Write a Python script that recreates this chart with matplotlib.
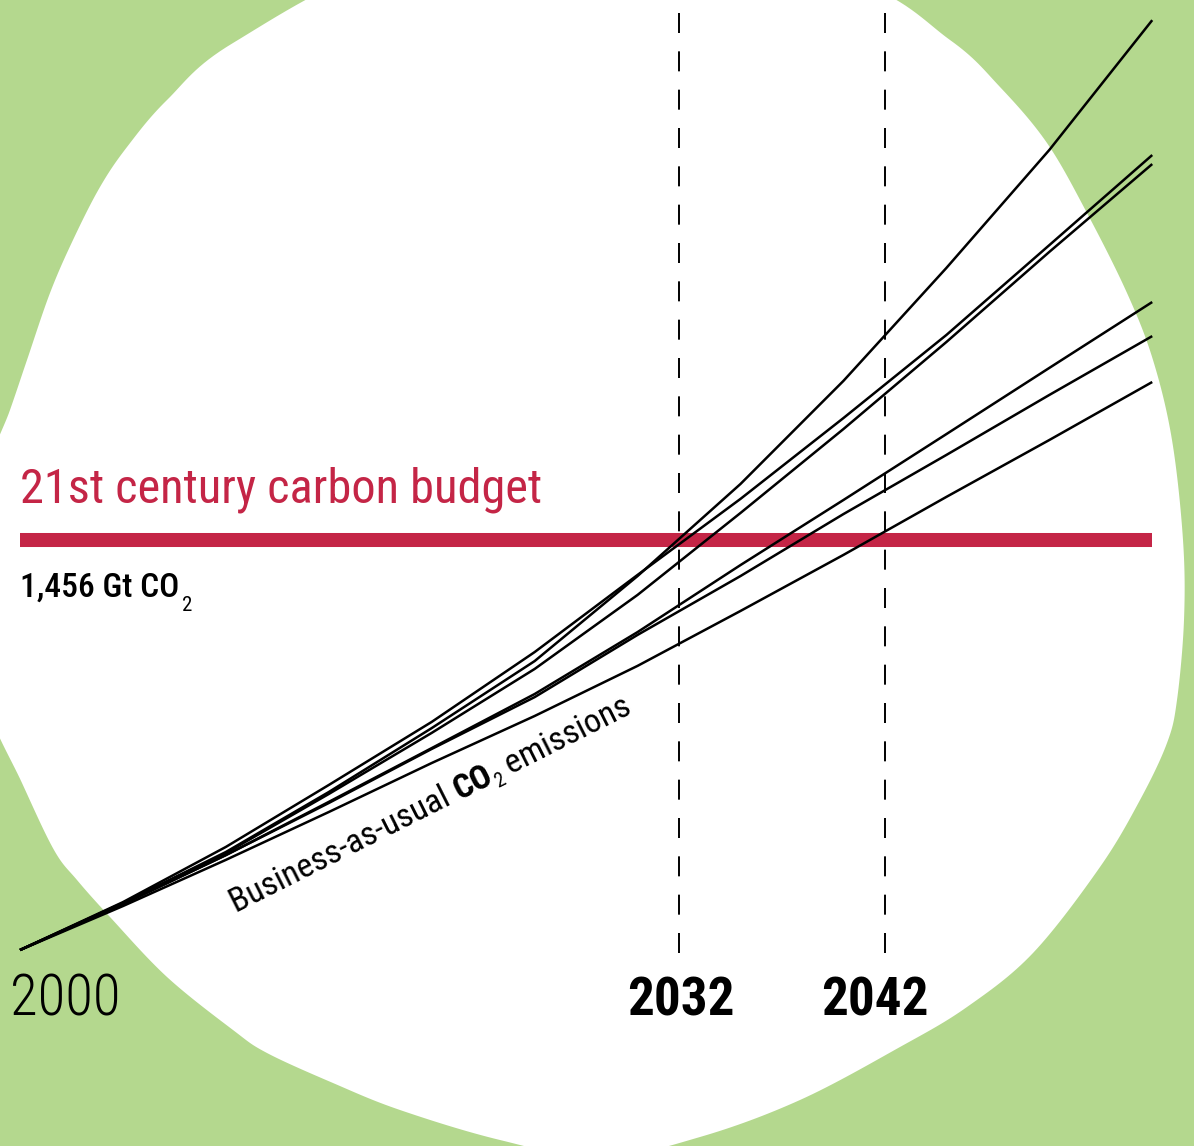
import matplotlib
matplotlib.use("Agg")
import matplotlib.pyplot as plt
from matplotlib import font_manager
from matplotlib.patches import Polygon
import numpy as np

# cumulative CO2 emissions since 2000 (Gt CO2), business-as-usual scenarios
years = [2000, 2005, 2010, 2015, 2020, 2025, 2030, 2035, 2040, 2045, 2050, 2055]
scenario_a = [0, 167, 348, 561, 788, 1026, 1328, 1655, 2021, 2422, 2841, 3302]
scenario_b = [0, 170, 366, 586, 810, 1058, 1332, 1602, 1889, 2184, 2503, 2823]
scenario_c = [0, 167, 344, 554, 771, 998, 1261, 1552, 1850, 2159, 2479, 2791]
scenario_d = [0, 163, 337, 526, 717, 909, 1129, 1367, 1598, 1832, 2067, 2301]
scenario_e = [0, 163, 337, 522, 714, 898, 1119, 1328, 1548, 1758, 1971, 2180]
scenario_f = [0, 156, 320, 490, 664, 831, 1009, 1204, 1403, 1609, 1811, 2017]

budget_gt = 1456
budget_span = [2000, 2055]
marker_years = [2032, 2042]
start_label = "2000"
title_text = "21st century carbon budget"
budget_label = "1,456 Gt CO"
curve_label = ["Business-as-usual ", "CO", "2", " emissions"]

GREEN = "#b4d88e"
RED = "#c42546"

# rough outline of the white blob, in reference pixels (x right, y down)
BLOB_OUTLINE = [
    (167, 100), (233, 43), (400, -40), (620, -60), (850, -20), (950, 40),
    (1000, 87), (1047, 143), (1087, 213), (1127, 293), (1153, 360), (1172, 440),
    (1183, 540), (1184, 620), (1177, 700), (1167, 743), (1140, 800), (1100, 867),
    (1033, 953), (967, 1007), (900, 1047), (800, 1100), (700, 1137), (600, 1158),
    (500, 1140), (400, 1110), (333, 1083), (267, 1053), (233, 1030), (167, 977),
    (110, 917), (77, 880), (54, 850), (22, 783), (-15, 700), (-30, 600),
    (-15, 480), (10, 410), (27, 360), (50, 293), (73, 240), (100, 187), (127, 147),
]

W, H = 1194, 1146


def smooth_closed(points, steps=16):
    p = np.asarray(points, dtype=float)
    n = len(p)
    out = []
    for i in range(n):
        p0, p1, p2, p3 = p[i - 1], p[i], p[(i + 1) % n], p[(i + 2) % n]
        for t in np.linspace(0, 1, steps, endpoint=False):
            out.append(0.5 * (2 * p1 + (p2 - p0) * t
                              + (2 * p0 - 5 * p1 + 4 * p2 - p3) * t ** 2
                              + (3 * p1 - p0 - 3 * p2 + p3) * t ** 3))
    return np.array(out)


def set_fonts():
    names = {f.name for f in font_manager.fontManager.ttflist}
    if "Roboto Condensed" in names:
        plt.rcParams["font.family"] = ["Roboto Condensed", "DejaVu Sans"]
    else:
        plt.rcParams["font.family"] = ["DejaVu Sans"]
        plt.rcParams["font.stretch"] = "condensed"


def fit_width(t, target_px, renderer):
    w = t.get_window_extent(renderer).width
    t.set_fontsize(t.get_fontsize() * target_px / w)


def main() -> None:
    plt.rcParams["lines.scale_dashes"] = False
    set_fonts()

    fig = plt.figure(figsize=(W / 100, H / 100), dpi=100, facecolor=GREEN)
    ax = fig.add_axes([0, 0, 1, 1])
    ax.set_facecolor("none")
    ax.axis("off")

    blob = smooth_closed(BLOB_OUTLINE)
    ax.add_patch(Polygon(np.column_stack([blob[:, 0] / W, 1 - blob[:, 1] / H]),
                         closed=True, transform=ax.transAxes,
                         facecolor="white", edgecolor="none", zorder=0))

    px_per_year = 20.586
    px_per_gt = 0.2816
    x_left = 2000 - 20 / px_per_year
    ax.set_xlim(x_left, x_left + W / px_per_year)
    ax.set_ylim(-(H - 950) / px_per_gt, 950 / px_per_gt)

    def to_data(px, py):
        return x_left + px / px_per_year, (950 - py) / px_per_gt

    # dashed year markers
    y_bot = to_data(0, 953)[1]
    y_top = to_data(0, 10)[1]
    for yr in marker_years:
        ax.plot([yr, yr], [y_bot, y_top], color="black", lw=1.4,
                linestyle=(0, (14.4, 13.2)), zorder=2)

    # budget bar
    ax.plot(budget_span, [budget_gt, budget_gt], color=RED, lw=10.1,
            solid_capstyle="butt", zorder=3)

    for series in [scenario_a, scenario_b, scenario_c, scenario_d, scenario_e, scenario_f]:
        ax.plot(years, series, color="black", lw=1.8, solid_capstyle="butt",
                solid_joinstyle="round", zorder=4)

    fig.canvas.draw()
    renderer = fig.canvas.get_renderer()

    tx, ty = to_data(20, 503)
    t = ax.text(tx, ty, title_text, color=RED, fontsize=34, ha="left", va="baseline")
    fit_width(t, 523, renderer)

    tx, ty = to_data(20, 597)
    t = ax.text(tx, ty, budget_label, color="black", fontsize=24, ha="left",
                va="baseline", fontweight="medium")
    fit_width(t, 160, renderer)
    ax.annotate("2", xy=(1, 0), xycoords=t, xytext=(3, -7), textcoords="offset pixels",
                fontsize=t.get_fontsize() * 0.62, ha="left", va="baseline", color="black")

    tx, ty = to_data(10, 1015)
    t = ax.text(tx, ty, start_label, fontsize=40, ha="left", va="baseline",
                color="black", fontweight="light")
    fit_width(t, 110, renderer)

    for yr, px in zip(marker_years, [681, 875]):
        t = ax.text(to_data(px, 0)[0], to_data(0, 1015)[1], str(yr), fontsize=40,
                    fontweight="bold", ha="center", va="baseline", color="black")
        fit_width(t, 107, renderer)

    # rotated label along the curves, built from pieces
    angle = np.degrees(np.arctan2(200, 397))
    styles = [dict(fontsize=22), dict(fontsize=22, fontweight="bold"),
              dict(fontsize=13), dict(fontsize=22)]
    drops = [0, 0, 6, 0]
    widths = []
    for s, kw in zip(curve_label, styles):
        tmp = ax.text(0, 0, s, **kw)
        widths.append(tmp.get_window_extent(renderer).width)
        tmp.remove()
    scale = 445 / sum(widths)
    x0, y0 = 236, H - 913
    ca, sa = np.cos(np.radians(angle)), np.sin(np.radians(angle))
    offset = 0.0
    for s, kw, drop, w in zip(curve_label, styles, drops, widths):
        kw = dict(kw)
        kw["fontsize"] = kw["fontsize"] * scale
        dpx = x0 + offset * ca + drop * scale * sa
        dpy = y0 + offset * sa - drop * scale * ca
        dx, dy = ax.transData.inverted().transform((dpx, dpy))
        ax.text(dx, dy, s, rotation=angle, rotation_mode="anchor", ha="left",
                va="baseline", color="black", **kw)
        offset += w * scale

    fig.savefig("out.png", dpi=100, facecolor=GREEN)
    plt.close(fig)


if __name__ == "__main__":
    main()
